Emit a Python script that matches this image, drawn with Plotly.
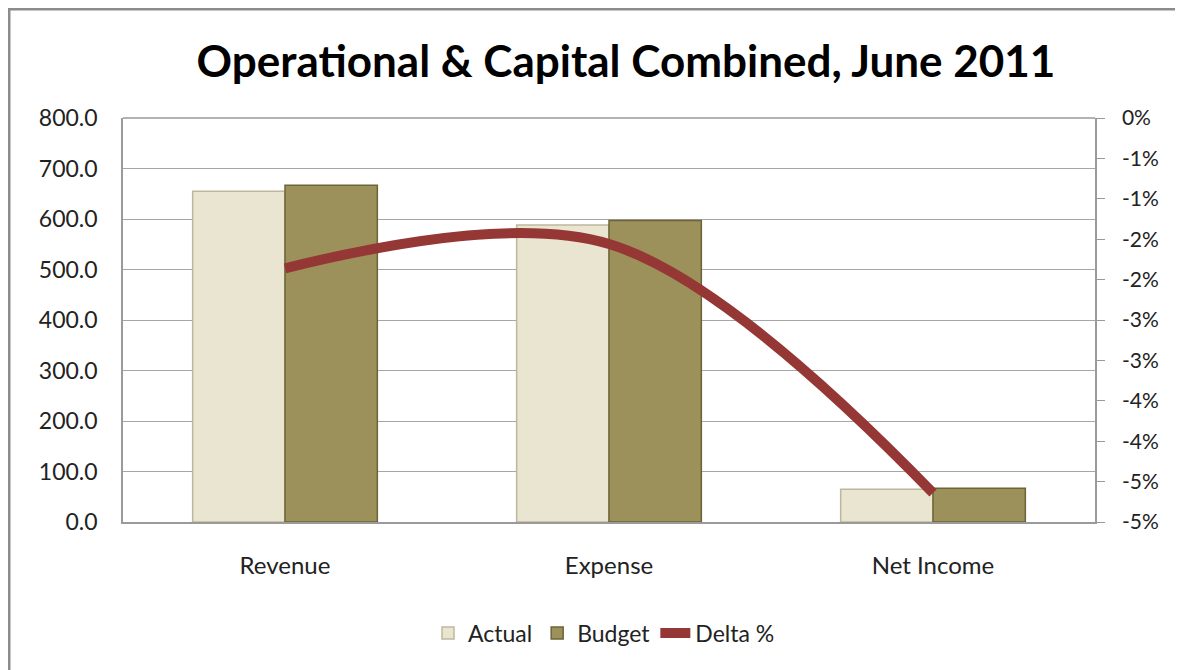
import plotly.graph_objects as go

categories = ["Revenue", "Expense", "Net Income"]
actual = [655, 588, 65]
budget = [667, 597, 67]
delta_pct = [-0.0186, -0.0156, -0.0464]
y2_tickvals = [0, -0.005, -0.01, -0.015, -0.02, -0.025, -0.03, -0.035, -0.04, -0.045, -0.05]
y2_ticktext = ["0%", "-1%", "-1%", "-2%", "-2%", "-3%", "-3%", "-4%", "-4%", "-5%", "-5%"]

FONT = "Lato, 'Open Sans', sans-serif"

# page has an 8px body margin; figure is sized/offset to compensate
W, H = 1175, 662
PL, PR, PT, PB = 115, 1087, 110, 514  # plot area in figure coords
PW, PH = PR - PL, PB - PT

fig = go.Figure()
fig.add_trace(go.Bar(
    x=categories, y=actual, name="Actual",
    marker=dict(color="#EAE5D1", line=dict(color="#BDB89C", width=1.5)),
))
fig.add_trace(go.Bar(
    x=categories, y=budget, name="Budget",
    marker=dict(color="#9C915A", line=dict(color="#6B6436", width=1.5)),
))
fig.add_trace(go.Scatter(
    x=categories, y=delta_pct, name="Delta %", yaxis="y2",
    mode="lines", line=dict(color="#953735", width=10, shape="spline", smoothing=1.0),
))

fig.update_layout(
    width=W, height=H,
    margin=dict(l=PL, r=W - PR, t=PT, b=H - PB),
    paper_bgcolor="white", plot_bgcolor="white",
    font=dict(family=FONT, size=22, color="#222222"),
    title=dict(text="<b>Operational & Capital Combined, June 2011</b>",
               x=618 / W, xanchor="center", xref="container",
               y=1 - 54 / H, yanchor="middle", yref="container",
               font=dict(family=FONT, size=44, color="black")),
    barmode="group", bargap=0.43, bargroupgap=0,
    showlegend=True,
    legend=dict(orientation="h", x=596 / W, xref="container", xanchor="center",
                y=1 - 625 / H, yref="container", yanchor="middle",
                font=dict(family=FONT, size=23, color="#222222"),
                traceorder="normal"),
    xaxis=dict(showline=True, linecolor="#9A9A9A", linewidth=1.5, ticks="",
               showgrid=False, tickfont=dict(size=24), ticklabelstandoff=21),
    yaxis=dict(range=[0, 800], dtick=100, tickformat=".1f", showgrid=True,
               gridcolor="#A6A6A6", gridwidth=1.2, showline=True, linecolor="#9A9A9A",
               linewidth=1.5, ticks="", zeroline=False, tickfont=dict(size=23),
               ticklabelstandoff=19),
    yaxis2=dict(range=[-0.05, 0], overlaying="y", side="right", tickvals=y2_tickvals,
                ticktext=y2_ticktext, showgrid=False, showline=True, linecolor="#9A9A9A",
                linewidth=1.5, ticks="outside", ticklen=8, tickcolor="#9A9A9A",
                zeroline=False, tickfont=dict(size=21), ticklabelstandoff=13),
    shapes=[
        dict(type="line", xref="paper", yref="paper", x0=0, x1=1, y0=1, y1=1,
             line=dict(color="#9A9A9A", width=1.5)),
        dict(type="rect", xref="paper", yref="paper",
             x0=(1 - PL) / PW, x1=(W + 100 - PL) / PW,
             y0=(PB - H - 100) / PH, y1=(PB - 1) / PH,
             line=dict(color="#8C8C8C", width=3), layer="below"),
    ],
)

fig.write_html("out.html")
